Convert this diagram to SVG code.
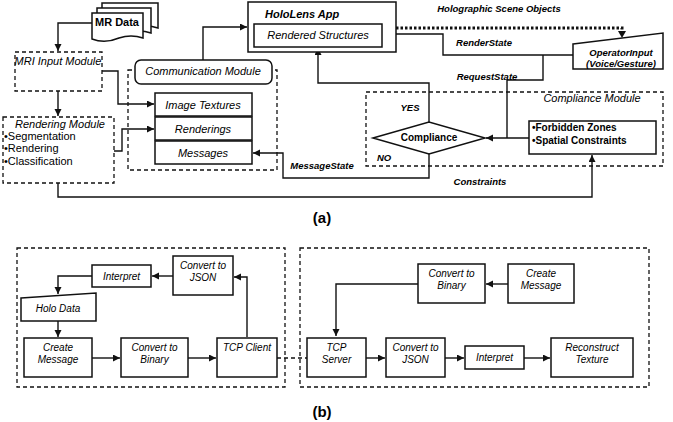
<svg xmlns="http://www.w3.org/2000/svg" width="673" height="422" viewBox="0 0 673 422">
<style>
.box{fill:#fff;stroke:#111;stroke-width:1.5}
.dash{fill:none;stroke:#111;stroke-width:1.3;stroke-dasharray:4 3}
.ln{fill:none;stroke:#111;stroke-width:1.4}
.arr{marker-end:url(#ah)}
.dot{fill:none;stroke:#111;stroke-width:3;stroke-dasharray:2.5 2}
text{font-family:"Liberation Sans",Arial,sans-serif;fill:#000}
.it{font-style:italic;font-size:11px}
.itb{font-style:italic;font-size:10px}
.bi{font-style:italic;font-weight:bold;font-size:9.5px}
.b{font-weight:bold;font-size:10px}
.r{font-size:11px}
.c{text-anchor:middle}
.cap{font-weight:bold;font-size:15px;text-anchor:middle}
</style>
<defs>
<marker id="ah" markerUnits="userSpaceOnUse" markerWidth="8" markerHeight="8" refX="7" refY="3.5" orient="auto">
<path d="M0,0 L7,3.5 L0,7 Z" fill="#111"/>
</marker>
</defs>

<g id="connectors">
<path class="ln arr" d="M92,23 H58 V51"/>
<path class="ln arr" d="M102,71 H118 V104 H154"/>
<path class="ln arr" d="M58,91 V116"/>
<path class="ln arr" d="M114,151 H122 V129 H154"/>
<path class="ln arr" d="M203,60 V27 H247"/>
<path class="ln arr" d="M58,183 V197 H592 V155"/>
<path class="ln arr" d="M429,122 V83 H318 V48"/>
<path class="ln arr" d="M429,153 V178 H283 V153 H253"/>
<path class="ln arr" d="M529,138 H486"/>
<path class="ln arr" d="M573,55 H443 V34 H383"/>
<path class="ln" d="M543,55 V80 H507 V138"/>
<path class="dot" d="M396,28 H622 V33"/>
<path d="M618,31 L622,38 L626,31 Z" fill="#111"/>
<path class="ln arr" d="M92,358 H120"/>
<path class="ln arr" d="M188,358 H216"/>
<path class="ln arr" d="M247,337 V277 H234"/>
<path class="ln arr" d="M173,276 H152"/>
<path class="ln arr" d="M92,276 H58 V294"/>
<path class="ln arr" d="M58,321 V337"/>
<path class="dash" d="M277,358 H307"/>
<path class="ln arr" d="M508,284 H486"/>
<path class="ln arr" d="M418,284 H336 V336"/>
<path class="ln arr" d="M366,358 H385"/>
<path class="ln arr" d="M445,358 H464"/>
<path class="ln arr" d="M524,358 H550"/>
</g>

<g id="mr-data">
<path class="box" d="M102,3 H158 V28 Q146,24 134,28 Q120,33 102,29 Z"/>
<path class="box" d="M97,8 H151 V33 Q139,29 127,33 Q113,38 97,34 Z"/>
<path class="box" d="M92,13 H143 V38 Q131,34 119,38 Q105,44 92,39 Z"/>
<text class="b c" x="117" y="26" style="font-size:11px">MR Data</text>
</g>

<g id="mri-input">
<rect class="dash" x="15" y="52" width="87" height="39"/>
<text class="it c" x="58" y="65">MRI Input Module</text>
</g>

<g id="rendering-module">
<rect class="dash" x="3" y="117" width="111" height="66"/>
<text class="it c" x="60" y="128">Rendering Module</text>
<text class="r" x="4" y="140">•Segmentation</text>
<text class="r" x="4" y="152">•Rendering</text>
<text class="r" x="4" y="165">•Classification</text>
</g>

<g id="communication-module">
<rect class="dash" x="128" y="70" width="149" height="100"/>
<rect class="box" x="135" y="60" width="137" height="24" rx="6"/>
<text class="it c" x="203" y="75">Communication Module</text>
<rect class="box" x="155" y="93" width="97" height="23"/>
<text class="it c" x="203" y="109">Image Textures</text>
<rect class="box" x="155" y="117" width="97" height="23"/>
<text class="it c" x="203" y="133">Renderings</text>
<rect class="box" x="155" y="141" width="97" height="23"/>
<text class="it c" x="203" y="157">Messages</text>
</g>

<g id="hololens">
<rect class="box" x="248" y="2" width="148" height="50"/>
<text class="bi" x="265" y="18" style="font-size:11px">HoloLens App</text>
<rect class="box" x="254" y="24" width="128" height="23"/>
<text class="it c" x="318" y="39">Rendered Structures</text>
</g>

<g id="operator-input">
<polygon class="box" points="573,44 663,33 663,69 573,69"/>
<text class="bi c" x="621" y="56">OperatorInput</text>
<text class="bi c" x="621" y="67">(Voice/Gesture)</text>
</g>

<g id="compliance-module">
<rect class="dash" x="366" y="92" width="297" height="74"/>
<text class="it c" x="592" y="102">Compliance Module</text>
<polygon class="box" points="373,138 429,122 485,138 429,154"/>
<text class="b c" x="429" y="141">Compliance</text>
<rect class="box" x="529" y="121" width="127" height="33"/>
<text class="b" x="532" y="131">•Forbidden Zones</text>
<text class="b" x="532" y="144">•Spatial Constraints</text>
</g>

<g id="labels-a">
<text class="bi c" x="499" y="12">Holographic Scene Objects</text>
<text class="bi c" x="484" y="46">RenderState</text>
<text class="bi c" x="487" y="80">RequestState</text>
<text class="bi c" x="410" y="111">YES</text>
<text class="bi" x="377" y="161">NO</text>
<text class="bi c" x="322" y="169">MessageState</text>
<text class="bi c" x="480" y="185">Constraints</text>
<text class="cap" x="322" y="223">(a)</text>
</g>

<g id="client">
<rect class="dash" x="17" y="248" width="268" height="139"/>
<rect class="box" x="92" y="265" width="59" height="22"/>
<text class="itb c" x="121.5" y="280">Interpret</text>
<rect class="box" x="173" y="256" width="60" height="39"/>
<text class="itb c" x="203" y="269">Convert to</text>
<text class="itb c" x="203" y="281">JSON</text>
<polygon class="box" points="21,298 96,293 96,321 21,321"/>
<text class="itb c" x="58" y="312">Holo Data</text>
<rect class="box" x="24" y="338" width="68" height="39"/>
<text class="itb c" x="58" y="351">Create</text>
<text class="itb c" x="58" y="363">Message</text>
<rect class="box" x="121" y="338" width="67" height="39"/>
<text class="itb c" x="154.5" y="351">Convert to</text>
<text class="itb c" x="154.5" y="363">Binary</text>
<rect class="box" x="217" y="338" width="60" height="39"/>
<text class="itb c" x="247" y="351">TCP Client</text>
</g>

<g id="server">
<rect class="dash" x="300" y="248" width="349" height="139"/>
<rect class="box" x="418" y="264" width="67" height="39"/>
<text class="itb c" x="451.5" y="277">Convert to</text>
<text class="itb c" x="451.5" y="289">Binary</text>
<rect class="box" x="508" y="264" width="66" height="39"/>
<text class="itb c" x="541" y="277">Create</text>
<text class="itb c" x="541" y="289">Message</text>
<rect class="box" x="307" y="338" width="59" height="39"/>
<text class="itb c" x="336.5" y="351">TCP</text>
<text class="itb c" x="336.5" y="363">Server</text>
<rect class="box" x="386" y="338" width="59" height="39"/>
<text class="itb c" x="415.5" y="351">Convert to</text>
<text class="itb c" x="415.5" y="363">JSON</text>
<rect class="box" x="465" y="346" width="59" height="23"/>
<text class="itb c" x="494.5" y="361">Interpret</text>
<rect class="box" x="551" y="338" width="82" height="39"/>
<text class="itb c" x="592" y="351">Reconstruct</text>
<text class="itb c" x="592" y="363">Texture</text>
</g>
<text class="cap" x="322" y="417">(b)</text>
</svg>
